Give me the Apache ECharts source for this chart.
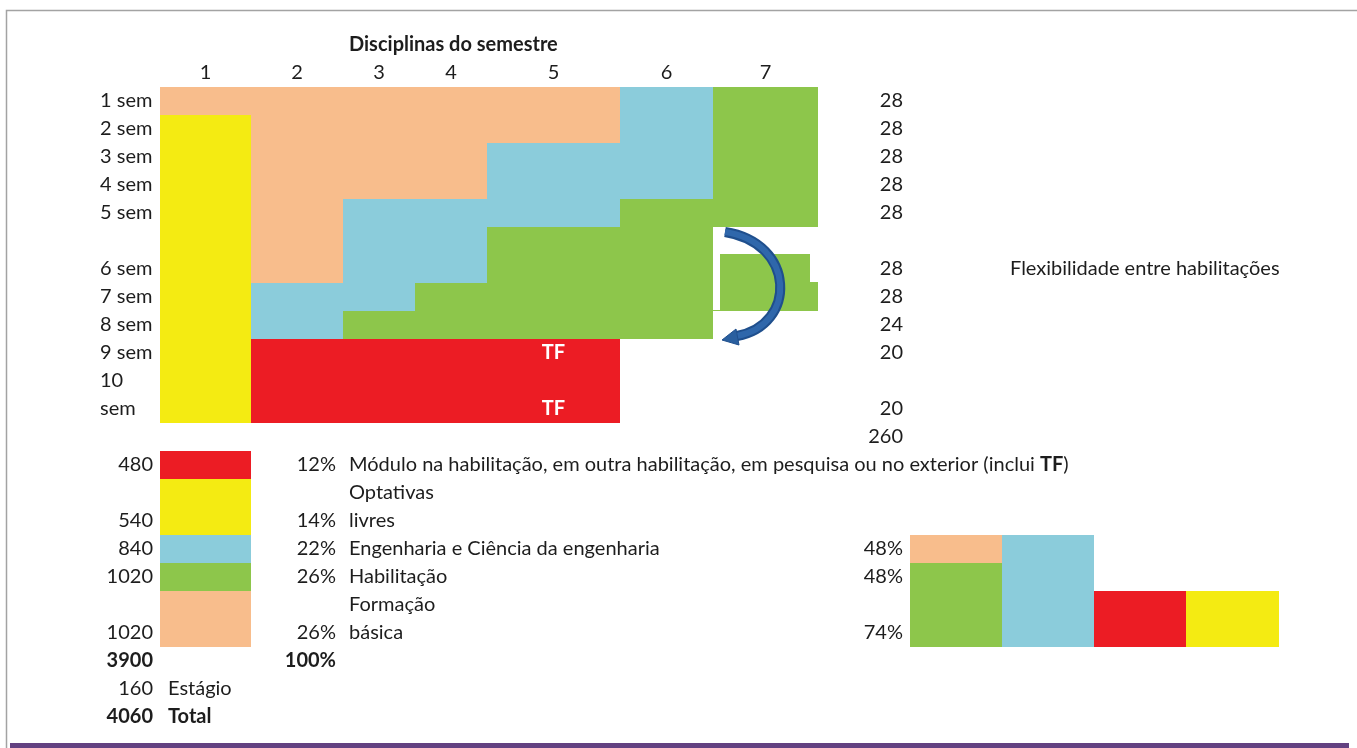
<!DOCTYPE html>
<html><head><meta charset="utf-8">
<script src="https://cdn.jsdelivr.net/npm/echarts@6/dist/echarts.min.js"></script>
<style>html,body{margin:0;padding:0;background:#fff}#c{width:1357px;height:748px}</style>
</head><body><div id="c"></div>
<script>
// ================= DATA =================
const chartTitle = 'Disciplinas do semestre';
const disciplineCols = ['1', '2', '3', '4', '5', '6', '7'];
const semesterLabels = ['1 sem', '2 sem', '3 sem', '4 sem', '5 sem', '6 sem', '7 sem', '8 sem', '9 sem', '10\nsem'];
const semesterCredits = [28, 28, 28, 28, 28, 28, 28, 24, 20, 20];
const creditTotal = 260;
// cell category per semester and discipline column
// F = Formação básica, E = Engenharia e Ciência da engenharia, H = Habilitação, O = Optativas livres, M = Módulo, '' = empty
const sem1 = ['F', 'F', 'F', 'F', 'F', 'E', 'H'];
const sem2 = ['O', 'F', 'F', 'F', 'F', 'E', 'H'];
const sem3 = ['O', 'F', 'F', 'F', 'E', 'E', 'H'];
const sem4 = ['O', 'F', 'F', 'F', 'E', 'E', 'H'];
const sem5 = ['O', 'F', 'E', 'E', 'E', 'H', 'H'];
const sem6 = ['O', 'F', 'E', 'E', 'H', 'H', 'H'];
const sem7 = ['O', 'E', 'E', 'H', 'H', 'H', 'H'];
const sem8 = ['O', 'E', 'H', 'H', 'H', 'H', ''];
const sem9 = ['O', 'M', 'M', 'M', 'M', '', ''];
const sem10 = ['O', 'M', 'M', 'M', 'M', '', ''];
const semesterCells = [sem1, sem2, sem3, sem4, sem5, sem6, sem7, sem8, sem9, sem10];
const tfLabel = 'TF';
const tfDiscipline = 5;
const flexLabel = 'Flexibilidade entre habilitações';

const categoryCodes = ['M', 'O', 'E', 'H', 'F'];
const categoryNames = [
  'Módulo na habilitação, em outra habilitação, em pesquisa ou no exterior (inclui {b|TF})',
  'Optativas\nlivres',
  'Engenharia e Ciência da engenharia',
  'Habilitação',
  'Formação\nbásica'
];
const categoryHours = [480, 540, 840, 1020, 1020];
const categoryShares = ['12%', '14%', '22%', '26%', '26%'];
const subtotalHours = 3900;
const subtotalShare = '100%';
const internshipHours = 160;
const internshipLabel = 'Estágio';
const totalHours = 4060;
const totalLabel = 'Total';

// small comparison blocks (bottom-up stacks, in cell rows)
const compareStacks = [[['H', 3], ['F', 1]], [['E', 4]], [['M', 2]], [['O', 2]]];
const compareLabels = ['48%', '48%', '74%'];

// ================= LAYOUT =================
const colorOf = { F: '#F8BD8C', E: '#8BCCDB', H: '#8DC64B', O: '#F4EB12', M: '#EC1C24' };
const colWidths = [96, 64, 91, 92, 72, 72, 133, 93, 105, 92, 92, 92, 92, 93];
const colEdges = [0];
colWidths.forEach(w => colEdges.push(colEdges[colEdges.length - 1] + w));
const L = c => colEdges[c], R = c => colEdges[c + 1], C = c => (colEdges[c] + colEdges[c + 1]) / 2;
const semSpan = [1, 1, 1, 1, 1, 2, 1, 1, 1, 2];
const semStart = []; { let r = 0; semSpan.forEach(s => { semStart.push(r); r += s; }); }
const legendSpan = [1, 2, 1, 1, 2];
const legendStart = []; { let r = 13; legendSpan.forEach(s => { legendStart.push(r); r += s; }); }
const compareLabelRows = [16, 17, 19];
const PADL = 6, PADR = 7;
const FONT = 'Lato, "Open Sans", sans-serif';
const FS = 20;
const TXT = '#1d1d1d';

// ================= BUILD MARKS =================
const cells = []; // [x0, x1, y0, y1, code]
semesterCells.forEach((row, s) => {
  row.forEach((code, j) => {
    if (!code) return;
    cells.push([L(2 + j), R(2 + j), semStart[s], semStart[s] + semSpan[s], code]);
  });
});
categoryCodes.forEach((code, i) => {
  cells.push([L(2), R(2), legendStart[i], legendStart[i] + legendSpan[i], code]);
});
compareStacks.forEach((stack, k) => {
  let base = 20;
  stack.forEach(([code, h]) => {
    cells.push([L(10 + k), R(10 + k), base - h, base, code]);
    base -= h;
  });
});

const texts = []; // {x, y, text, align, bold, color}
function addText(x, y, text, align, opt) {
  texts.push(Object.assign({ x, y, text: String(text), align }, opt || {}));
}
function addLines(x, lastRow, label, align, opt) {
  const lines = String(label).split('\n');
  lines.forEach((ln, k) => addText(x, lastRow - (lines.length - 1 - k) + 0.5, ln, align, opt));
}
addText(L(4) + PADL, -1.5, chartTitle, 'left', { bold: true });
disciplineCols.forEach((d, j) => addText(C(2 + j), -0.5, d, 'center'));
semesterLabels.forEach((lab, s) => {
  const last = semStart[s] + semSpan[s] - 1;
  addLines(L(1) + PADL - 2, last, lab, 'left');
  addText(R(9) - PADR, last + 0.5, semesterCredits[s], 'right');
  if (semesterCells[s][tfDiscipline - 1] === 'M') addText(C(1 + tfDiscipline), last + 0.5, tfLabel, 'center', { bold: true, color: '#ffffff' });
});
addText(R(9) - PADR, 12.5, creditTotal, 'right');
addText(L(11) + PADL + 2, semStart[5] + semSpan[5] - 0.5, flexLabel, 'left');
categoryCodes.forEach((code, i) => {
  const last = legendStart[i] + legendSpan[i] - 1;
  addText(R(1) - PADR, last + 0.5, categoryHours[i], 'right');
  addText(R(3) - PADR, last + 0.5, categoryShares[i], 'right');
  addLines(L(4) + PADL, last, categoryNames[i], 'left');
});
addText(R(1) - PADR, 20.5, subtotalHours, 'right', { bold: true });
addText(R(3) - PADR, 20.5, subtotalShare, 'right', { bold: true });
addText(R(1) - PADR, 21.5, internshipHours, 'right');
addText(L(2) + PADL + 2, 21.5, internshipLabel, 'left');
addText(R(1) - PADR, 22.5, totalHours, 'right', { bold: true });
addText(L(2) + PADL + 2, 22.5, totalLabel, 'left', { bold: true });
compareLabels.forEach((t, i) => addText(R(9) - PADR, compareLabelRows[i] + 0.5, t, 'right'));

// ================= CHART =================
const chart = echarts.init(document.getElementById('c'), null, { renderer: 'canvas' });
chart.setOption({
  animation: false,
  backgroundColor: '#ffffff',
  grid: { left: 0, top: 31, width: 1357, height: 700 },
  xAxis: { type: 'value', min: 0, max: 1357, show: false },
  yAxis: { type: 'value', min: -2, max: 23, inverse: true, show: false },
  graphic: [
    { type: 'polyline', shape: { points: [[6.5, 748], [6.5, 10.5], [1357, 10.5]] }, style: { stroke: '#a3a3a3', lineWidth: 1.5, fill: null }, silent: true },
    { type: 'rect', shape: { x: 10, y: 743, width: 1339, height: 5 }, style: { fill: '#634181' }, silent: true }
  ],
  series: [
    {
      type: 'custom', clip: false, z: 2,
      data: cells,
      renderItem: (params, api) => {
        const c = cells[params.dataIndex];
        const p0 = api.coord([c[0], c[2]]);
        const p1 = api.coord([c[1], c[3]]);
        return { type: 'rect', shape: { x: p0[0], y: p0[1], width: p1[0] - p0[0], height: p1[1] - p0[1] }, style: { fill: colorOf[c[4]] } };
      }
    },
    {
      type: 'custom', clip: false, z: 4,
      data: [[L(8), 5]],
      renderItem: (params, api) => {
        const o = api.coord([L(8), 5]);
        const ox = o[0], oy = o[1];
        const path = `M ${ox + 12} ${oy + 5} C ${ox + 83} ${oy + 16} ${ox + 84} ${oy + 98} ${ox + 24} ${oy + 109}`;
        return {
          type: 'group',
          children: [
            { type: 'rect', shape: { x: ox, y: oy, width: 105, height: 27 }, style: { fill: '#fff' } },
            { type: 'rect', shape: { x: ox, y: oy + 27, width: 7, height: 56 }, style: { fill: '#fff' } },
            { type: 'rect', shape: { x: ox + 97, y: oy + 27, width: 8, height: 28 }, style: { fill: '#fff' } },
            { type: 'path', shape: { pathData: path }, style: { stroke: '#1f4f8d', lineWidth: 10, fill: null, lineCap: 'butt' } },
            { type: 'path', shape: { pathData: path }, style: { stroke: '#2f67ab', lineWidth: 6, fill: null, lineCap: 'butt' } },
            { type: 'polygon', shape: { points: [[ox + 9, oy + 113], [ox + 23, oy + 102], [ox + 26, oy + 118]] }, style: { fill: '#2a5f9f', stroke: '#1f4f8d', lineWidth: 1 } }
          ]
        };
      }
    },
    {
      type: 'custom', clip: false, z: 5,
      data: texts.map(t => [t.x, t.y]),
      renderItem: (params, api) => {
        const t = texts[params.dataIndex];
        const p = api.coord([t.x, t.y]);
        return {
          type: 'text', x: p[0], y: p[1],
          style: {
            text: t.text, textAlign: t.align, textVerticalAlign: 'middle',
            fill: t.color || TXT, fontFamily: FONT, fontSize: FS,
            fontWeight: t.bold ? 'bold' : 'normal',
            rich: { b: { fontWeight: 'bold', fontFamily: FONT, fontSize: FS, fill: t.color || TXT } }
          }
        };
      }
    }
  ]
});
</script></body></html>
